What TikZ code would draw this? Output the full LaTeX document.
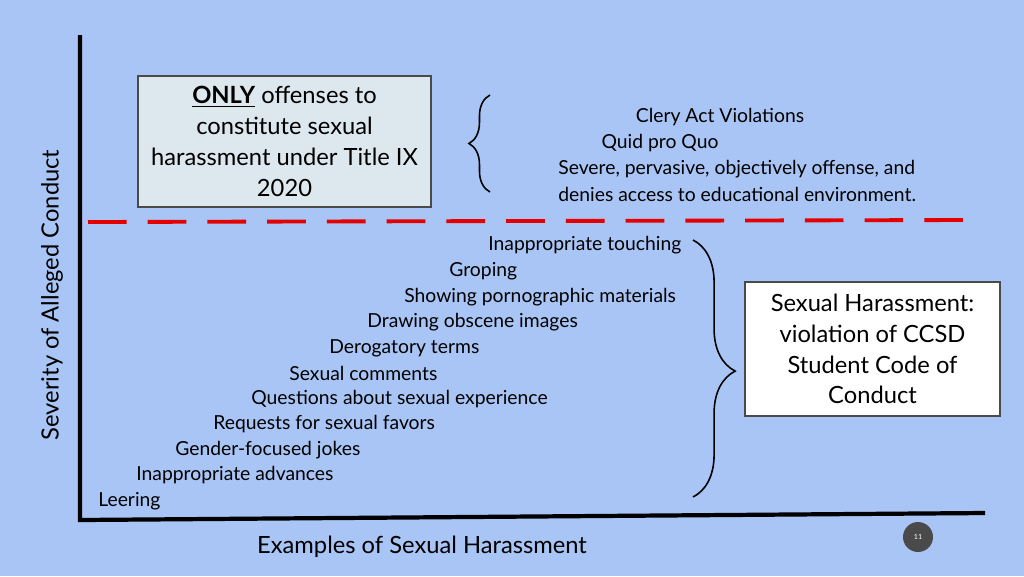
\documentclass[tikz,border=0pt]{standalone}
\usepackage{fontspec}
\setmainfont{Lato}
\usetikzlibrary{decorations.pathreplacing}
\definecolor{bgblue}{HTML}{A9C5F5}
\definecolor{boxfill}{HTML}{DDE8EE}
\definecolor{darkc}{HTML}{4A4A4A}
\tikzset{
  axisline/.style={line width=2.4pt, black},
  item/.style={anchor=west, inner sep=0pt, font=\fontsize{11}{12}\selectfont},
  bracetip/.style={decorate, decoration={brace, amplitude=12pt}, line width=0.9pt},
}
\begin{document}
\begin{tikzpicture}[x=0.02cm, y=-0.02cm]
\fill[bgblue] (0,0) rectangle (1024,576);
\useasboundingbox (0,0) rectangle (1024,576);

% axes
\coordinate (origin) at (80,520);
\coordinate (ytop) at (80,35);
\coordinate (xend) at (985,513);
\draw[axisline] (ytop) -- (origin) -- (xend);
\node[rotate=90, font=\fontsize{13.5}{15}\selectfont] (ylab) at (52,295) {Severity of Alleged Conduct};
\node[font=\fontsize{13.5}{15}\selectfont] (xlab) at (422,547) {Examples of Sexual Harassment};

% Title IX box
\node[draw=darkc, line width=0.8pt, fill=boxfill, minimum width=293*0.02cm, minimum height=131*0.02cm,
  align=center, font=\fontsize{13.5}{17.5}\selectfont] (onlybox) at (284.5,141.5)
  {\underline{\textbf{ONLY}} offenses to\\constitute sexual\\harassment under Title IX\\2020};
\coordinate (bl1) at (490,192);
\coordinate (bl2) at (490,95);
\draw[bracetip] (bl1) -- (bl2);
\node[font=\fontsize{11}{12}\selectfont] (clery) at (720,117) {Clery Act Violations};
\node[font=\fontsize{11}{12}\selectfont] (quid) at (660,143) {Quid pro Quo};
\node[item] (severe) at (558,169) {Severe, pervasive, objectively offense, and};
\node[item] (denies) at (558,194) {denies access to educational environment.};

% threshold
\coordinate (dl) at (88,222);
\coordinate (dr) at (965,220);
\draw[red!90!black, line width=2.2pt, dash pattern=on 22 off 12] (dl) -- (dr);

% examples
\node[item] (e1) at (488,245) {Inappropriate touching};
\node[item] (e2) at (449,271) {Groping};
\node[item] (e3) at (404,297) {Showing pornographic materials};
\node[item] (e4) at (367,322) {Drawing obscene images};
\node[item] (e5) at (329,348) {Derogatory terms};
\node[item] (e6) at (289,373) {Sexual comments};
\node[item] (e7) at (251,399) {Questions about sexual experience};
\node[item] (e8) at (213,424) {Requests for sexual favors};
\node[item] (e9) at (175,450) {Gender-focused jokes};
\node[item] (e10) at (136,475) {Inappropriate advances};
\node[item] (e11) at (98,501) {Leering};

\coordinate (br1) at (693,240);
\coordinate (br2) at (693,497);
\draw[bracetip, decoration={brace, amplitude=24pt, aspect=0.51}] (br1) -- (br2);

\node[draw=darkc, line width=0.6pt, fill=white, minimum width=255*0.02cm, minimum height=134*0.02cm,
  align=center, font=\fontsize{13.5}{17.5}\selectfont] (codebox) at (872.5,349)
  {Sexual Harassment:\\violation of CCSD\\Student Code of\\Conduct};

% page number
\node[circle, fill=darkc, minimum size=30*0.02cm, inner sep=0pt, text=white, font=\fontsize{4}{4}\selectfont] (pnum) at (918,537) {11};
\end{tikzpicture}
\end{document}
